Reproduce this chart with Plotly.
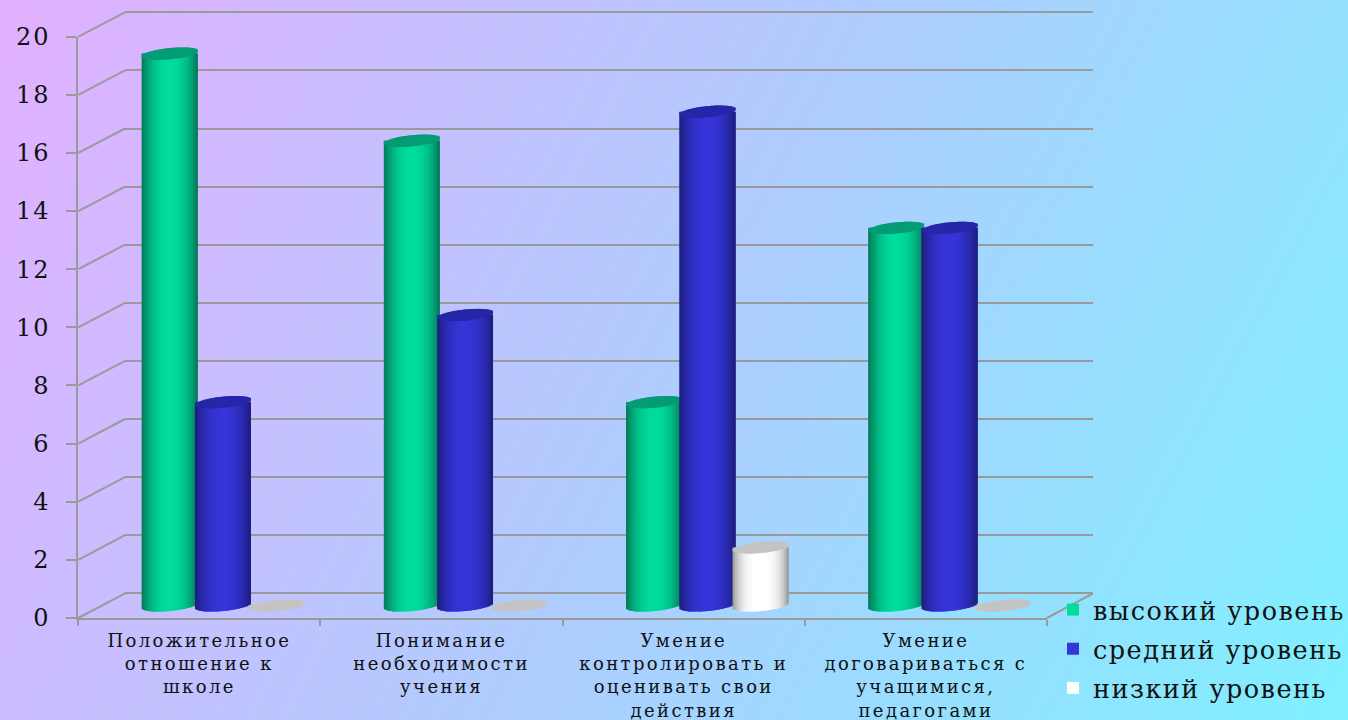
import urllib.parse
import numpy as np
import plotly.graph_objects as go

# ---------- data ----------
categories = ["Положительное<br>отношение к<br>школе",
              "Понимание<br>необходимости<br>учения",
              "Умение<br>контролировать и<br>оценивать свои<br>действия",
              "Умение<br>договариваться с<br>учащимися,<br>педагогами"]
series_names = ["высокий уровень", "средний уровень", "низкий уровень"]
high_values = [19, 16, 7, 13]
mid_values = [7, 10, 17, 13]
low_values = [0, 0, 2, 0]
y_ticks = [0, 2, 4, 6, 8, 10, 12, 14, 16, 18, 20]

# ---------- styling ----------
W, H = 1348, 720
FONT = "DejaVu Serif"
GRID = "#9a9a9a"
# front plane, back wall, and the mid plane the cylinders stand on (pixels)
FX0, FX1, FY0, FY1 = 78.3, 1047.0, 618.0, 36.7
BX0, BX1, BY0, BY1 = 125.0, 1093.0, 593.3, 12.3
MX0, MX1, MY0, MY1 = 101.8, 1070.5, 605.5, 24.5
UNIT = (MY0 - MY1) / 20

series_style = [
    dict(center=(0, 220, 156), edge=(6, 118, 88), cap="#049c74", power=2.2, offset=-0.22),
    dict(center=(53, 53, 216), edge=(28, 28, 125), cap="#2626a8", power=2.2, offset=0.0),
    dict(center=(255, 255, 255), edge=(150, 150, 150), cap="#c4c4c4", power=3.2, offset=0.22),
]
BAR_W = 0.231
CAP_B = 0.19     # minor semi-axis of the top/bottom ellipse, in axis units
CAP_TILT = 0.09  # rise of the ellipse towards its right end, in axis units
N = 40           # strips per cylinder


def px(x):
    return x / W


def py(y):
    return 1 - y / H


def shade(style, u):
    t = abs(u) ** style["power"]
    c = [round(a + (b - a) * t) for a, b in zip(style["center"], style["edge"])]
    return "rgb(%d,%d,%d)" % tuple(c)


def arc_at(u):
    return CAP_B * np.sqrt(max(1 - u * u, 0.0))


def cylinder_trace(name, values, style):
    xs, bases, heights, colors, widths = [], [], [], [], []

    def add(x_left, w, base, h, color):
        xs.append(x_left + w / 2)
        widths.append(w)
        bases.append(base)
        heights.append(h)
        colors.append(color)

    step_u = 2 / N
    step = BAR_W / N
    tallest = int(np.argmax(values))
    # first point: centre colour of the tallest bar, which also sets the legend key
    add(tallest + 0.5 + style["offset"] - step, 2 * step, -0.1,
        max(values[tallest], 0.1), shade(style, 0.0))
    for cat, v in enumerate(values):
        c = cat + 0.5 + style["offset"]
        strips = [-1 + i * step_u for i in range(N)]
        # every strip runs on under the next one, so no seam can open between them
        if v > 0:
            for i, u in enumerate(strips):
                un = u + (2 * step_u if i < N - 1 else step_u)
                un = min(un, 1.0)
                un1 = min(u + step_u, 1.0)
                low = max(-arc_at(u + step_u / 2) + CAP_TILT * u,
                          -arc_at(un1) + CAP_TILT * un1)
                add(c + u * BAR_W / 2, (un - u) * BAR_W / 2, low, v - low,
                    shade(style, u + step_u / 2))
        for i, u in enumerate(strips):
            un = min(u + (2 * step_u if i < N - 1 else step_u), 1.0)
            um = u + step_u / 2
            a = arc_at(um)
            add(c + u * BAR_W / 2, (un - u) * BAR_W / 2,
                v + CAP_TILT * um - a, 2 * a, style["cap"])
    return go.Bar(x=xs, y=heights, base=bases, width=widths, name=name,
                  marker=dict(color=colors, line=dict(width=0)),
                  xaxis="x3", yaxis="y3", legendgroup=name, cliponaxis=False,
                  hoverinfo="skip")


svg = ('<svg xmlns="http://www.w3.org/2000/svg" width="1348" height="720">'
       '<defs><linearGradient id="g" gradientUnits="userSpaceOnUse" x1="0" y1="0" x2="1348" y2="720">'
       '<stop offset="0" stop-color="#e2b0ff"/>'
       '<stop offset="0.5" stop-color="#b0ccff"/>'
       '<stop offset="1" stop-color="#7ff0ff"/>'
       '</linearGradient></defs><rect width="1348" height="720" fill="url(#g)"/></svg>')
bg = "data:image/svg+xml," + urllib.parse.quote(svg)

fig = go.Figure()
# anchor traces so the front axes and the wall grid are laid out
fig.add_trace(go.Scatter(x=[0], y=[0], mode="markers", marker=dict(opacity=0),
                         showlegend=False, hoverinfo="skip", xaxis="x", yaxis="y"))
fig.add_trace(go.Scatter(x=[0], y=[0], mode="markers", marker=dict(opacity=0),
                         showlegend=False, hoverinfo="skip", xaxis="x2", yaxis="y2"))
for name, vals, st in zip(series_names, [high_values, mid_values, low_values], series_style):
    fig.add_trace(cylinder_trace(name, vals, st))

# receding lines from the front axis to the back wall
shapes = []
for t in y_ticks:
    yf = FY0 + (FY1 - FY0) * t / 20
    yb = BY0 + (BY1 - BY0) * t / 20
    shapes.append(dict(type="line", xref="paper", yref="paper", x0=px(FX0), x1=px(BX0),
                       y0=py(yf), y1=py(yb), line=dict(color=GRID, width=2), layer="below"))
shapes.append(dict(type="line", xref="paper", yref="paper", x0=px(FX1), x1=px(BX1),
                   y0=py(FY0), y1=py(BY0), line=dict(color=GRID, width=2), layer="below"))

WALL_UNIT = (BY0 - BY1) / 20

fig.update_layout(
    width=W, height=H, autosize=False,
    margin=dict(l=0, r=0, t=0, b=0, pad=0),
    paper_bgcolor="rgba(0,0,0,0)", plot_bgcolor="rgba(0,0,0,0)",
    barmode="overlay",
    font=dict(family=FONT, color="#111111"),
    images=[dict(source=bg, xref="paper", yref="paper", x=0, y=1, sizex=1, sizey=1,
                 sizing="stretch", xanchor="left", yanchor="top", layer="below")],
    shapes=shapes,
    xaxis=dict(domain=[px(FX0), px(FX1)], range=[0, 4], anchor="y", automargin=False,
               tickmode="array", tickvals=[0.5, 1.5, 2.5, 3.5], ticktext=categories,
               ticks="", showgrid=False, zeroline=False,
               showline=True, linecolor=GRID, linewidth=2,
               tickfont=dict(family=FONT, size=18, color="#111111"), tickangle=0,
               ticklabelstandoff=5,
               minor=dict(tickmode="array", tickvals=[0, 1, 2, 3, 4], ticks="outside",
                          ticklen=6, tickwidth=2, tickcolor=GRID, showgrid=False)),
    yaxis=dict(domain=[py(FY0), py(FY1)], range=[0, 20], anchor="x", automargin=False,
               tickmode="array", tickvals=y_ticks, ticks="outside", ticklen=10,
               tickwidth=2, tickcolor=GRID, showgrid=False, zeroline=False,
               showline=True, linecolor=GRID, linewidth=2,
               tickfont=dict(family=FONT, size=24, color="#111111"),
               ticklabelstandoff=11),
    xaxis2=dict(domain=[px(BX0), px(BX1)], range=[0, 4], anchor="y2", visible=False,
                automargin=False),
    # range overshoots both ends so the gridlines at 0 and 20 are drawn
    yaxis2=dict(domain=[py(BY0 + WALL_UNIT), py(BY1 - 0.4 * WALL_UNIT)], range=[-1, 20.4],
                anchor="x2", side="right",
                tickmode="array", tickvals=y_ticks, showticklabels=False, ticks="",
                automargin=False,
                showgrid=True, gridcolor=GRID, gridwidth=2, zeroline=False, showline=False),
    xaxis3=dict(domain=[px(MX0), px(MX1)], range=[0, 4], anchor="y3", visible=False,
                automargin=False),
    # range runs one unit below zero so the cylinders' rounded bottoms stay inside the plot
    yaxis3=dict(domain=[py(MY0 + UNIT), py(MY1)], range=[-1, 20], anchor="x3", visible=False,
                automargin=False),
    legend=dict(x=px(1053), y=py(586.5), xanchor="left", yanchor="top", xref="paper", yref="paper",
                bgcolor="rgba(0,0,0,0)", borderwidth=0, tracegroupgap=3,
                entrywidth=262, entrywidthmode="pixels",
                font=dict(family=FONT, size=25.5, color="#111111")),
)

post = """
var s=document.createElement('style');
s.textContent='html,body{margin:0;padding:0;overflow:hidden}'+
 '.xtick text{letter-spacing:2.4px}'+
 '.ytick text{letter-spacing:2px}'+
 '.legendtext{letter-spacing:1.5px}'+
 '.legend .scrollbox{clip-path:none !important}';
document.head.appendChild(s);
"""
fig.write_html("out.html", post_script=post, config=dict(displayModeBar=False))
